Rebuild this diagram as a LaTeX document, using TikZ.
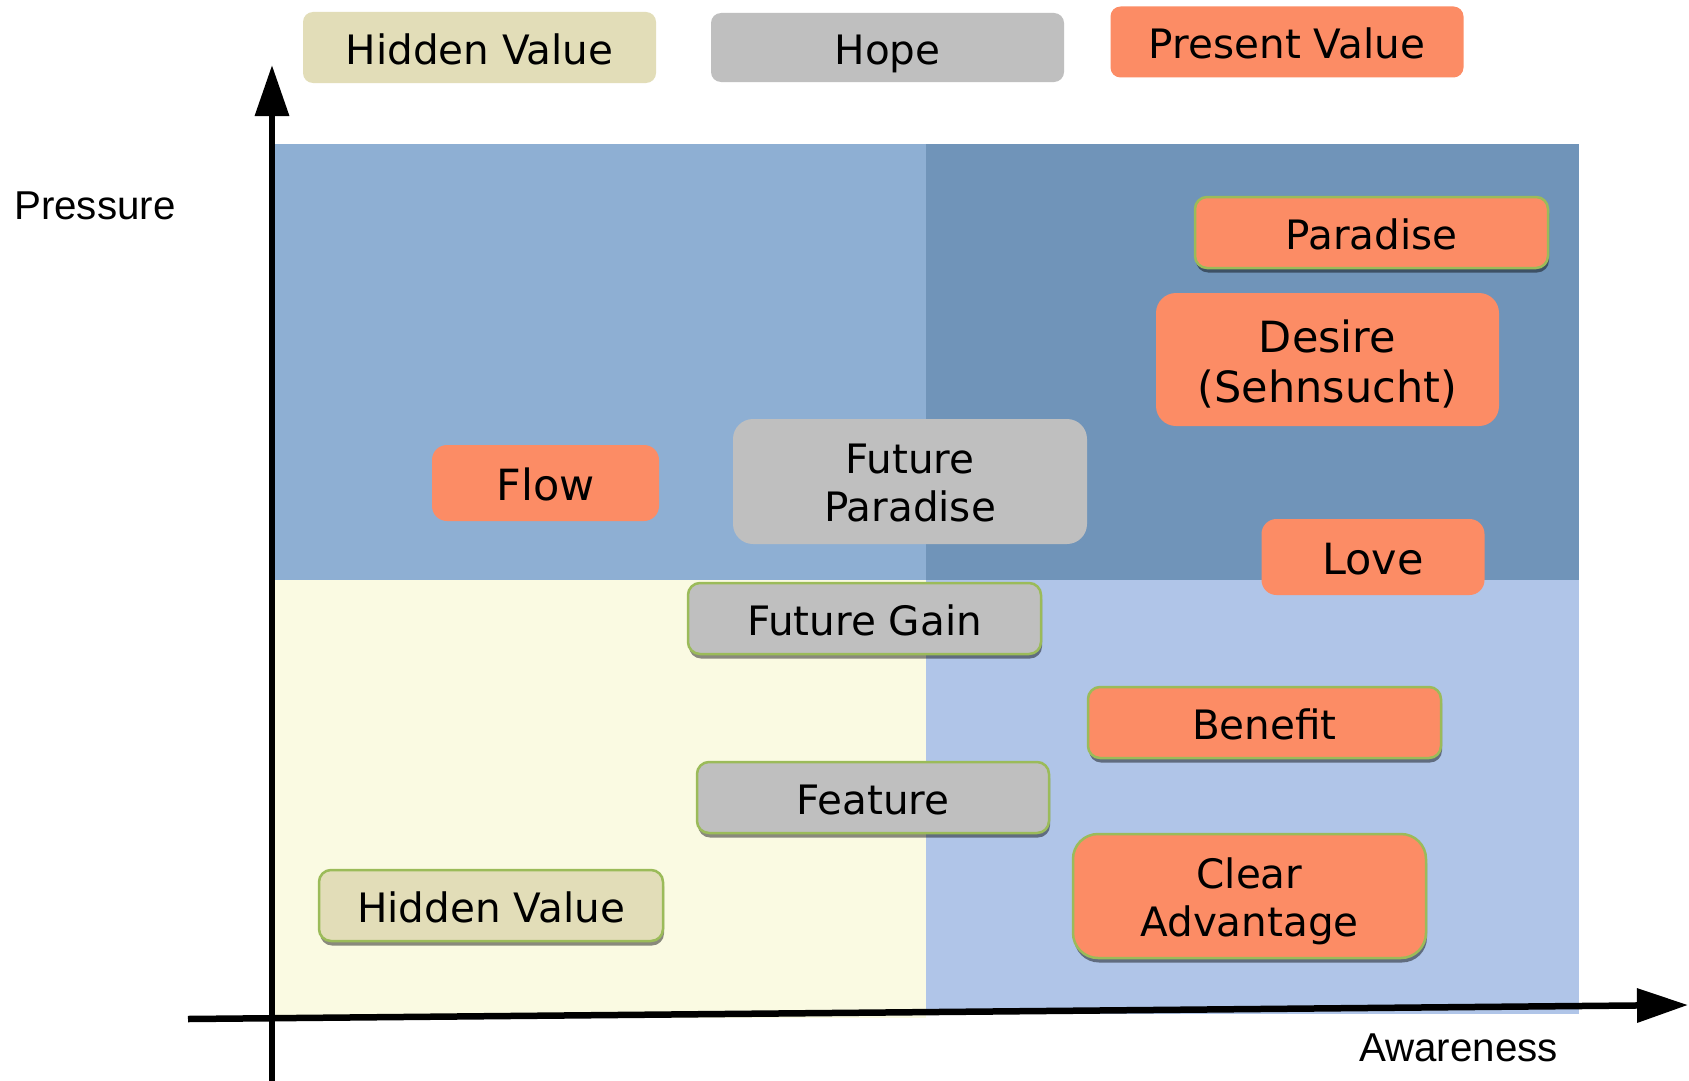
\documentclass[tikz,border=0pt]{standalone}
\usepackage{fontspec}
\setmainfont{DejaVu Sans}
\newfontfamily\arialf{Liberation Sans}
\usetikzlibrary{arrows.meta,shadows}
\definecolor{cOrange}{HTML}{FC8C65}
\definecolor{cGray}{HTML}{BFBFBF}
\definecolor{cTan}{HTML}{E2DDB8}
\definecolor{cTL}{HTML}{8EAFD3}
\definecolor{cTR}{HTML}{7094B9}
\definecolor{cBR}{HTML}{B0C5E8}
\definecolor{cBL}{HTML}{FAFAE2}
\definecolor{cGreen}{HTML}{9BBB59}
\newcommand\twolinetext[3]{\raisebox{-#1}[\height][\depth]{\begin{tabular}{@{}c@{}}#2\\#3\end{tabular}}}
\tikzset{
  box/.style={inner sep=0pt, align=center, text=black,
    font=\fontsize{40.5}{48}\selectfont},
  bigtext/.style={font=\fontsize{43}{50}\selectfont},
  oneline/.style={text height=37.5pt, text depth=4pt},
  bigoneline/.style={text height=39.3pt, text depth=4.3pt},
  framed/.style={draw=cGreen, line width=2.5pt,
    drop shadow={shadow xshift=1pt, shadow yshift=-4.5pt, fill=black, opacity=0.45}},
  orangebox/.style={box, fill=cOrange},
  graybox/.style={box, fill=cGray},
  tanbox/.style={box, fill=cTan},
  axislabel/.style={inner sep=0pt, anchor=base west, font=\arialf\fontsize{40.3}{46}\selectfont},
  axisline/.style={line width=6.5pt, -{Triangle[length=51pt,width=33pt]}}
}
\begin{document}
\begin{tikzpicture}[x=1pt,y=-1pt]
\path[use as bounding box, fill=white] (0,0) rectangle (1689,1081);
% quadrants
\fill[cTL] (275,144) rectangle (926,580);
\fill[cTR] (926,144) rectangle (1579,580);
\fill[cBL] (275,580) rectangle (926,1018);
\fill[cBR] (926,580) rectangle (1579,1014);
% legend
\node[tanbox, oneline, rounded corners=10pt, minimum width=353pt, minimum height=71pt] (lhv) at (479.5,47.5) {Hidden Value};
\node[graybox, oneline, rounded corners=10pt, minimum width=353pt, minimum height=69pt] (lhope) at (887.5,47.5) {Hope};
\node[orangebox, oneline, rounded corners=10pt, minimum width=353pt, minimum height=71pt] (lpv) at (1287,42) {Present Value};
% axes
\coordinate (xs) at (188,1019);
\coordinate (xe) at (1688,1005);
\coordinate (ys) at (272,1081);
\coordinate (ye) at (272,65);
\draw[axisline] (xs) -- (xe);
\draw[axisline] (ys) -- (ye);
\node[axislabel] (pressure) at (14,219) {Pressure};
\node[axislabel] (awareness) at (1359,1061) {Awareness};
% boxes
\node[orangebox, oneline, framed, rounded corners=12pt, minimum width=353pt, minimum height=71pt] (paradise) at (1371.5,232.5) {Paradise};
\node[orangebox, bigtext, rounded corners=20pt, minimum width=343pt, minimum height=133pt] (desire) at (1327.5,359.5) {\twolinetext{7.5pt}{Desire}{(Sehnsucht)}};
\node[orangebox, bigtext, bigoneline, rounded corners=15pt, minimum width=227pt, minimum height=76pt] (flow) at (545.5,483) {Flow};
\node[graybox, rounded corners=20pt, minimum width=354pt, minimum height=125pt] (fparadise) at (910,481.5) {\twolinetext{6.5pt}{Future}{Paradise}};
\node[orangebox, bigtext, bigoneline, rounded corners=15pt, minimum width=223pt, minimum height=76pt] (love) at (1373,557) {Love};
\node[graybox, oneline, framed, rounded corners=12pt, minimum width=353pt, minimum height=71pt] (fgain) at (864.5,618.5) {Future Gain};
\node[orangebox, oneline, framed, rounded corners=12pt, minimum width=353pt, minimum height=71pt] (benefit) at (1264.5,722.5) {Benefit};
\node[graybox, oneline, framed, rounded corners=12pt, minimum width=352pt, minimum height=71pt] (feature) at (873,797.5) {Feature};
\node[orangebox, framed, rounded corners=25pt, minimum width=353pt, minimum height=124pt] (clear) at (1249.5,896) {\twolinetext{6.5pt}{Clear}{Advantage}};
\node[tanbox, oneline, framed, rounded corners=12pt, minimum width=344pt, minimum height=71pt] (hv) at (491,905.5) {Hidden Value};
\end{tikzpicture}
\end{document}
